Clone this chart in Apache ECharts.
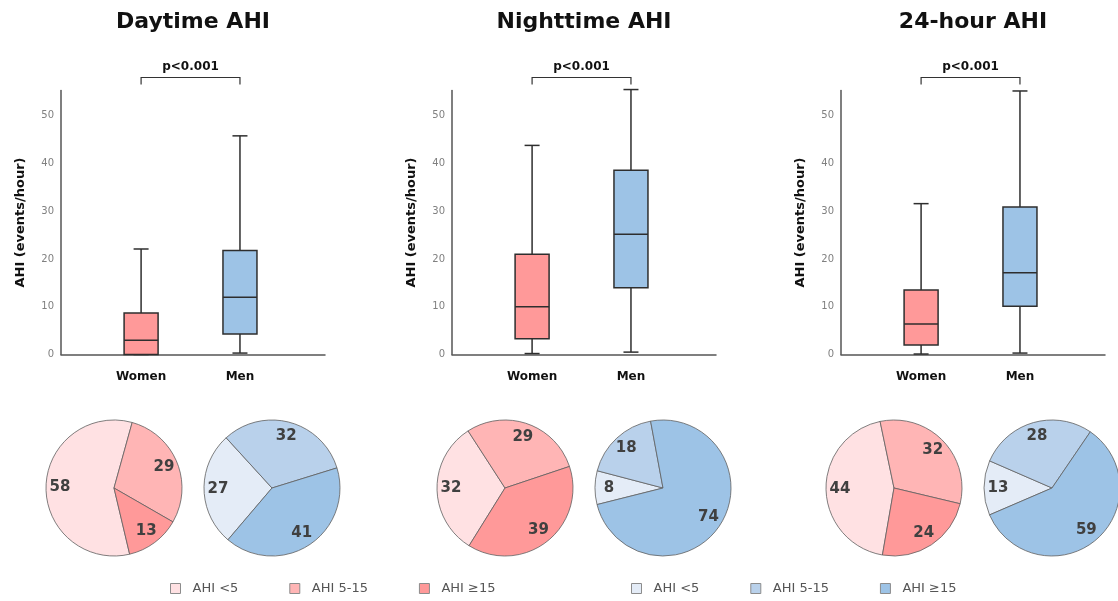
<!DOCTYPE html>
<html>
<head>
<meta charset="utf-8">
<script src="https://cdn.jsdelivr.net/npm/echarts@6/dist/echarts.min.js"></script>
<style>
  html, body { margin: 0; padding: 0; background: #ffffff; }
  #chart { width: 1118px; height: 601px; }
</style>
</head>
<body>
<div id="chart"></div>
<script>
// ---- data ---------------------------------------------------------------
const panelTitles = ['Daytime AHI', 'Nighttime AHI', '24-hour AHI'];
const groups = ['Women', 'Men'];
const pValues = ['p<0.001', 'p<0.001', 'p<0.001'];
const yAxisName = 'AHI (events/hour)';

// box summaries: [min, Q1, median, Q3, max]
const dayWomen   = [0.0, 0.0, 3.0, 8.7, 22.1];
const dayMen     = [0.3, 4.3, 12.0, 21.8, 45.8];
const nightWomen = [0.2, 3.3, 10.0, 21.0, 43.8];
const nightMen   = [0.5, 14.0, 25.2, 38.6, 55.5];
const fullWomen  = [0.1, 2.0, 6.4, 13.5, 31.6];
const fullMen    = [0.3, 10.1, 17.1, 30.9, 55.2];

// share of participants (%) per severity class
const severity = ['AHI <5', 'AHI 5-15', 'AHI \u226515'];
const dayWomenPct   = [58, 29, 13];
const dayMenPct     = [27, 32, 41];
const nightWomenPct = [32, 29, 39];
const nightMenPct   = [8, 18, 74];
const fullWomenPct  = [44, 32, 24];
const fullMenPct    = [13, 28, 59];

// ---- styling ------------------------------------------------------------
const pinks = ['#FFE1E3', '#FFB5B5', '#FF9999'];
const blues = ['#E4ECF7', '#B9D1EB', '#9DC3E6'];
const boxFill = ['#FF9999', '#9DC3E6'];
const BOLD = '"DejaVu Sans", sans-serif';
const PLAIN = '"DejaVu Sans", sans-serif';

const panelLeft = [61, 452, 841];
const GRID_W = 264, GRID_TOP = 90.5, GRID_H = 264;
const BOX_W = 34, CAP_W = 15;
const PIE_R = 68, PIE_Y = 488, PIE_DX = 79;
const pieStart = [[-76.7, -130.4], [-121.9, -165.9], [-99.8, -156.7]];

const boxSets = [[dayWomen, dayMen], [nightWomen, nightMen], [fullWomen, fullMen]];
const pieSets = [[dayWomenPct, dayMenPct], [nightWomenPct, nightMenPct], [fullWomenPct, fullMenPct]];

function renderBox(params, api) {
  const x = api.value(0);
  const at = v => api.coord([x, v]);
  const lo = at(api.value(1)), q1 = at(api.value(2)), med = at(api.value(3));
  const q3 = at(api.value(4)), hi = at(api.value(5));
  const cx = lo[0];
  const stroke = { stroke: '#2e2e2e', lineWidth: 1.5 };
  return {
    type: 'group',
    children: [
      { type: 'line', shape: { x1: cx, y1: q3[1], x2: cx, y2: hi[1] }, style: stroke },
      { type: 'line', shape: { x1: cx, y1: q1[1], x2: cx, y2: lo[1] }, style: stroke },
      { type: 'line', shape: { x1: cx - CAP_W / 2, y1: hi[1], x2: cx + CAP_W / 2, y2: hi[1] }, style: stroke },
      { type: 'line', shape: { x1: cx - CAP_W / 2, y1: lo[1], x2: cx + CAP_W / 2, y2: lo[1] }, style: stroke },
      { type: 'rect', shape: { x: cx - BOX_W / 2, y: q3[1], width: BOX_W, height: q1[1] - q3[1] },
        style: { fill: boxFill[params.dataIndex], stroke: '#2e2e2e', lineWidth: 1.5 } },
      { type: 'line', shape: { x1: cx - BOX_W / 2, y1: med[1], x2: cx + BOX_W / 2, y2: med[1] }, style: stroke }
    ]
  };
}

function makeBracket(panel) {
  return function (params, api) {
    const a = api.coord([api.value(0), 0])[0];
    const b = api.coord([api.value(1), 0])[0];
    const yl = params.coordSys.y - 13;
    return {
      type: 'group',
      children: [
        { type: 'polyline', shape: { points: [[a, yl + 7], [a, yl], [b, yl], [b, yl + 7]] },
          style: { stroke: '#333333', lineWidth: 1.2, fill: null } },
        { type: 'text', x: (a + b) / 2, y: yl - 11,
          style: { text: pValues[panel], fill: '#111111', fontSize: 12, fontWeight: 'bold',
                   fontFamily: BOLD, align: 'center', verticalAlign: 'middle' } }
      ]
    };
  };
}

const grid = [], xAxis = [], yAxis = [], series = [], graphic = [];

panelTitles.forEach((title, p) => {
  const cxPanel = panelLeft[p] + GRID_W / 2;
  grid.push({ left: panelLeft[p], top: GRID_TOP, width: GRID_W, height: GRID_H, outerBoundsMode: 'none' });
  xAxis.push({
    type: 'value', gridIndex: p, min: 0.19, max: 2.86,
    axisLine: { show: true, lineStyle: { color: '#555555', width: 1.5 } },
    axisTick: { show: false }, splitLine: { show: false },
    axisLabel: {
      customValues: [1, 2], margin: 16,
      formatter: v => groups[Math.round(v) - 1] || '',
      color: '#111111', fontSize: 12, fontWeight: 'bold', fontFamily: BOLD
    }
  });
  yAxis.push({
    type: 'value', gridIndex: p, min: 0, max: 55.3, interval: 10,
    name: yAxisName, nameLocation: 'middle', nameGap: 34,
    nameTextStyle: { color: '#111111', fontSize: 13, fontWeight: 'bold', fontFamily: BOLD },
    axisLine: { show: true, lineStyle: { color: '#555555', width: 1.5 } },
    axisTick: { show: false }, splitLine: { show: false },
    axisLabel: { showMaxLabel: false, margin: 7, color: '#808080', fontSize: 10, fontFamily: PLAIN }
  });
  series.push({
    type: 'custom', name: title, xAxisIndex: p, yAxisIndex: p,
    renderItem: renderBox, encode: { x: 0, y: [1, 2, 3, 4, 5] },
    data: boxSets[p].map((s, i) => [i + 1].concat(s)),
    silent: true, animation: false, clip: false
  });
  series.push({
    type: 'custom', xAxisIndex: p, yAxisIndex: p,
    renderItem: makeBracket(p), data: [[1, 2]],
    silent: true, animation: false, clip: false
  });
  graphic.push({
    type: 'text', x: cxPanel, y: 22,
    style: { text: title, fill: '#111111', fontSize: 22, fontWeight: 'bold', fontFamily: BOLD,
             align: 'center', verticalAlign: 'middle' }
  });

  [pinks, blues].forEach((colors, g) => {
    const center = [cxPanel + (g === 0 ? -PIE_DX : PIE_DX), PIE_Y];
    const values = pieSets[p][g];
    const data = severity.map((name, i) => ({ name, value: values[i], itemStyle: { color: colors[i] } }));
    series.push({
      type: 'pie', center, radius: PIE_R, startAngle: pieStart[p][g], clockwise: true,
      avoidLabelOverlap: false, data,
      itemStyle: { borderColor: '#606060', borderWidth: 0.8 },
      label: { show: false }, labelLine: { show: false },
      silent: true, animation: false
    });
    // transparent ring that only carries the value labels
    series.push({
      type: 'pie', center, radius: [PIE_R * 0.5, PIE_R], startAngle: pieStart[p][g], clockwise: true,
      avoidLabelOverlap: false,
      data: severity.map((name, i) => ({ name, value: values[i] })),
      itemStyle: { color: 'rgba(0,0,0,0)', borderWidth: 0 },
      label: { show: true, position: 'inside', formatter: '{c}', color: '#404040',
               fontSize: 15, fontWeight: 'bold', fontFamily: BOLD },
      labelLine: { show: false },
      silent: true, animation: false
    });
  });
});

function legendFor(colors, left) {
  return {
    left, top: 577, orient: 'horizontal', icon: 'rect',
    itemWidth: 10, itemHeight: 10, itemGap: 51, selectedMode: false,
    data: severity.map((name, i) => ({
      name, itemStyle: { color: colors[i], borderColor: '#8c8c8c', borderWidth: 1 }
    })),
    textStyle: { color: '#555555', fontSize: 13, fontFamily: PLAIN, padding: [0, 0, 0, 7] }
  };
}

const chart = echarts.init(document.getElementById('chart'), null, { renderer: 'canvas' });
chart.setOption({
  backgroundColor: '#ffffff',
  animation: false,
  grid, xAxis, yAxis, series, graphic,
  legend: [legendFor(pinks, 165), legendFor(blues, 626)]
});
</script>
</body>
</html>
